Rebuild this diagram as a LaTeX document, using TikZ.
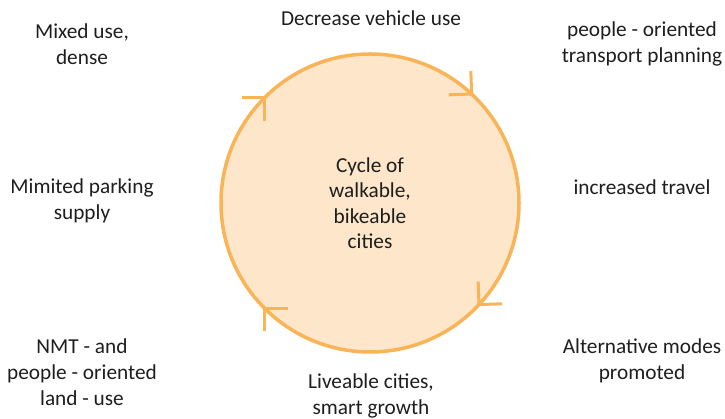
\documentclass[tikz,border=0pt]{standalone}
\usepackage{fontspec}
\setmainfont{Carlito}
\definecolor{ringline}{HTML}{F8B456}
\definecolor{ringfill}{HTML}{FDE6CA}
\definecolor{txt}{HTML}{1E1E1E}
\begin{document}
\begin{tikzpicture}[x=1pt,y=1pt,
  lbl/.style={align=center,text=txt,font=\fontsize{21.3}{26}\selectfont,inner sep=0pt},
  ring/.style={circle,draw=ringline,fill=ringfill,line width=3.5pt,minimum size=298pt,inner sep=0pt,outer sep=0pt,
    align=center,text=txt,font=\fontsize{21.3}{25.5}\selectfont},
  chev/.style={draw=ringline,line width=3pt}]
\useasboundingbox (0,0) rectangle (725,419);
\node[ring] (c) at (370,216) {Cycle of\\walkable,\\bikeable\\cities};
\foreach \a in {135,47,-43,-135}{
  \draw[chev] (c.\a) ++(\a+45:23) -- (c.\a) -- ++(\a+135:23);
}
\node[lbl] (t)  at (371,401) {Decrease vehicle use};
\node[lbl] (tl) at (82,375) {Mixed use,\\dense};
\node[lbl] (tr) at (642,375) {people - oriented\\transport planning};
\node[lbl] (ml) at (82,218) {Mimited parking\\supply};
\node[lbl] (mr) at (642,232) {increased travel};
\node[lbl] (bl) at (82,47) {NMT - and\\people - oriented\\land - use};
\node[lbl] (br) at (642,58) {Alternative modes\\promoted};
\node[lbl] (b)  at (371,23) {Liveable cities,\\smart growth};
\end{tikzpicture}
\end{document}
